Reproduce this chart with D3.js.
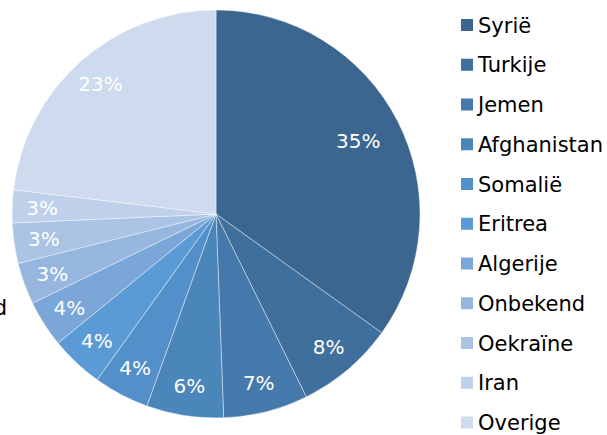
<!DOCTYPE html>
<html>
<head>
<meta charset="utf-8">
<script src="https://cdn.jsdelivr.net/npm/d3@7/dist/d3.min.js"></script>
<style>
  html, body { margin: 0; padding: 0; background: #fff; }
  svg { display: block; font-family: "DejaVu Sans", Verdana, sans-serif; }
</style>
</head>
<body>
<svg id="chart" width="607" height="435"></svg>
<script>
const categories = ["Syrië", "Turkije", "Jemen", "Afghanistan", "Somalië", "Eritrea", "Algerije", "Onbekend", "Oekraïne", "Iran", "Overige"];
const values = [34.9, 7.8, 6.7, 6.1, 4.4, 4.2, 3.7, 3.3, 3.2, 2.6, 23.1];
const colors = ["#3a6690", "#3f6f9c", "#4679ab", "#4b86bb", "#5390c9", "#5a9bd5", "#7aa7d8", "#96b6df", "#abc3e5", "#bed0ea", "#cedbee"];

const data = categories.map((c, i) => ({ name: c, value: values[i], color: colors[i] }));

const svg = d3.select("#chart");
const cx = 216, cy = 214, R = 204;

const pie = d3.pie().value(d => d.value).sort(null);
const arcs = pie(data);
const arc = d3.arc().innerRadius(0).outerRadius(R);

const g = svg.append("g").attr("transform", `translate(${cx},${cy})`);

g.selectAll("path.slice")
  .data(arcs)
  .enter().append("path")
  .attr("class", "slice")
  .attr("d", arc)
  .attr("fill", d => d.data.color)
  .attr("stroke", "rgba(255,255,255,0.55)")
  .attr("stroke-width", 0.75);

const total = d3.sum(values);
g.selectAll("text.lbl")
  .data(arcs)
  .enter().append("text")
  .attr("class", "lbl")
  .attr("transform", d => {
    const r = d.data.value > 30 ? 160 : 174;
    const c = d3.arc().innerRadius(r).outerRadius(r).centroid(d);
    return `translate(${c[0]},${c[1]})`;
  })
  .attr("text-anchor", "middle")
  .attr("dy", "0.36em")
  .attr("fill", "#ffffff")
  .attr("font-size", "20px")
  .text(d => Math.round(d.data.value / total * 100) + "%");

// stray clipped label on the left edge
svg.append("text")
  .attr("x", 7).attr("y", 315)
  .attr("text-anchor", "end")
  .attr("font-size", "21px")
  .attr("fill", "#000")
  .text("Onbekend");

// legend
const ly = d3.scalePoint().domain(categories).range([25, 422.5]);
const leg = svg.append("g");
const items = leg.selectAll("g.item").data(data).enter().append("g")
  .attr("class", "item")
  .attr("transform", d => `translate(461,${ly(d.name)})`);
items.append("rect")
  .attr("x", 0).attr("y", -6).attr("width", 12).attr("height", 12)
  .attr("fill", d => d.color);
items.append("text")
  .attr("x", 17).attr("y", 7.5)
  .attr("font-size", "21px")
  .attr("fill", "#000")
  .text(d => d.name);
</script>
</body>
</html>
